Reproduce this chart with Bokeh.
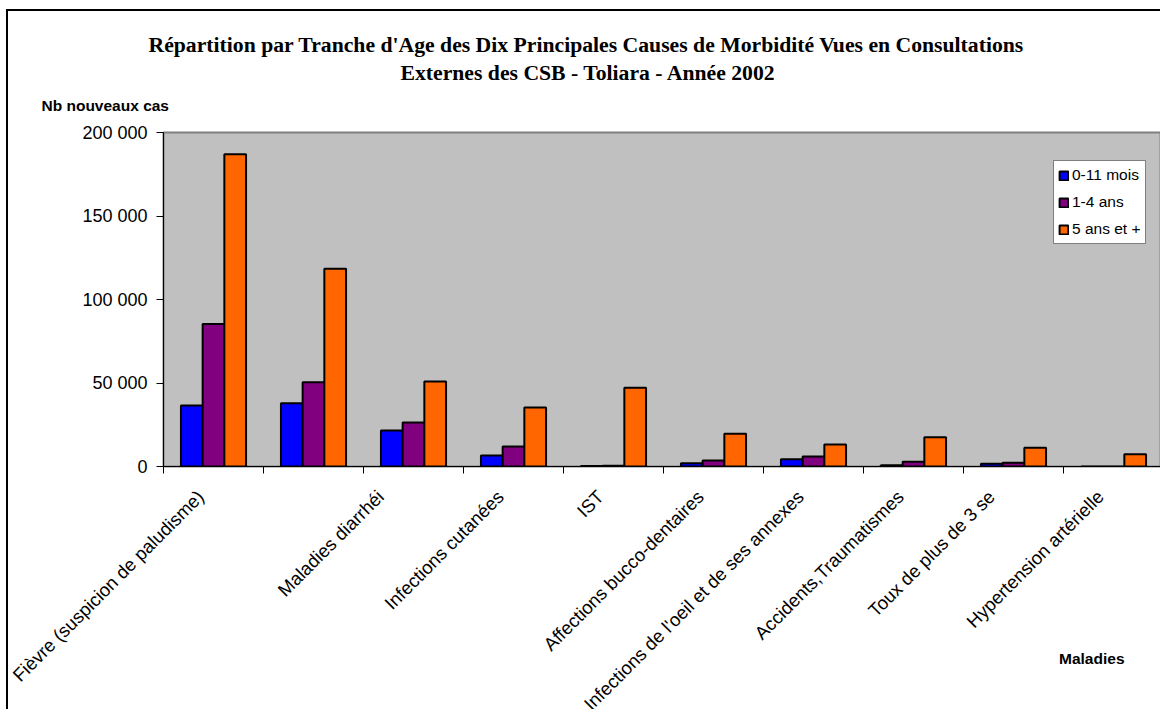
import numpy as np
from math import pi
from bokeh.plotting import figure
from bokeh.models import Range1d, FixedTicker, Legend, LegendItem, Title, GlobalInlineStyleSheet
from bokeh.embed import file_html
from bokeh.resources import INLINE

# ---- data ----
labels = ["Fièvre (suspicion de paludisme)", "Maladies diarrhéi", "",
          "Infections cutanées", "IST", "Affections bucco-dentaires",
          "Infections de l'oeil et de ses annexes", "Accidents,Traumatismes",
          "Toux de plus de 3 se", "Hypertension artérielle"]
series_names = ["0-11 mois", "1-4 ans", "5 ans et +"]
v_0_11 = [36500, 37900, 21500, 6600, 300, 2000, 4400, 800, 1600, 0]
v_1_4 = [85400, 50500, 26300, 12000, 500, 3600, 6000, 2800, 2200, 0]
v_5p = [187000, 118400, 50900, 35300, 47100, 19600, 13200, 17500, 11200, 7400]
y_ticks = [0, 50000, 100000, 150000, 200000]
y_tick_labels = ["0", "50 000", "100 000", "150 000", "200 000"]
title_lines = ["Répartition par Tranche d'Age des Dix Principales Causes de Morbidité Vues en Consultations",
               "Externes des CSB - Toliara - Année 2002"]
y_title = "Nb nouveaux cas"
x_title = "Maladies"

colors = ["#0000FF", "#800080", "#FF6600"]
FONT = "Liberation Sans"

idx = np.arange(len(labels))
# label anchors: slightly left of each category centre; the two clipped labels sit as in the original
label_shift = {1: 0.80, 8: -0.09}
label_pos = [float(i) + 0.5 - 0.13 + label_shift.get(i, 0.0) for i in idx]
boundaries = [float(i) for i in range(len(labels) + 1)]

p = figure(frame_width=997, frame_height=334, x_range=Range1d(0, 9.97), y_range=Range1d(0, 200000),
           output_backend="svg", toolbar_location=None,
           min_border_left=155, min_border_right=0, min_border_top=121, min_border_bottom=243)
p.title.visible = False
p.styles = {"margin-left": "6px", "margin-top": "9px",
            "border-left": "2px solid black", "border-top": "2px solid black"}
p.stylesheets = [GlobalInlineStyleSheet(css="html, body { overflow: hidden !important; }")]
p.background_fill_color = "#C0C0C0"
p.border_fill_color = "white"
p.outline_line_color = "#808080"
p.outline_line_width = 2
p.xgrid.visible = False
p.ygrid.visible = False

bar_w = 0.217
renderers = []
for k, vals in enumerate([v_0_11, v_1_4, v_5p]):
    r = p.vbar(x=idx + 0.5 + (k - 1) * bar_w, top=vals, width=bar_w, bottom=0,
               fill_color=colors[k], line_color="black", line_width=2)
    renderers.append(r)

# x axis: category labels, tick marks (minor) at category boundaries
xa = p.xaxis[0]
xa.ticker = FixedTicker(ticks=label_pos, minor_ticks=boundaries)
xa.major_label_overrides = {c: lab for c, lab in zip(label_pos, labels)}
xa.major_label_orientation = pi / 4
xa.major_label_text_font = FONT
xa.major_label_text_font_size = "18.5px"
xa.major_label_text_color = "black"
xa.major_label_standoff = 20
xa.major_tick_out = 0
xa.major_tick_in = 0
xa.major_tick_line_color = None
xa.minor_tick_out = 7
xa.minor_tick_in = 0
xa.minor_tick_line_color = "black"
xa.axis_line_color = "black"

# y axis
ya = p.yaxis[0]
ya.ticker = FixedTicker(ticks=y_ticks)
ya.major_label_overrides = {t: s for t, s in zip(y_ticks, y_tick_labels)}
ya.major_label_text_font = FONT
ya.major_label_text_font_size = "18px"
ya.major_label_text_color = "black"
ya.major_tick_out = 7
ya.major_tick_in = 0
ya.minor_tick_line_color = None
ya.major_label_standoff = 9
ya.axis_line_color = "black"

# texts above the plot area (first added = nearest to the plot area)
p.add_layout(Title(text=y_title, align="left", offset=-122, standoff=38,
                   text_font=FONT, text_font_size="15.5px", text_font_style="bold",
                   text_color="black"), "above")
p.add_layout(Title(text=title_lines[1], align="left", offset=237, standoff=-19,
                   text_font="Liberation Serif", text_font_size="21.7px", text_font_style="bold",
                   text_color="black"), "above")
p.add_layout(Title(text=title_lines[0], align="left", offset=-15, standoff=24,
                   text_font="Liberation Serif", text_font_size="21.7px", text_font_style="bold",
                   text_color="black"), "above")

# axis title bottom right
p.add_layout(Title(text=x_title, align="right", offset=36, standoff=-150, vertical_align="top",
                   text_font=FONT, text_font_size="15.5px", text_font_style="bold",
                   text_color="black"), "below")

legend = Legend(items=[LegendItem(label=n, renderers=[r]) for n, r in zip(series_names, renderers)],
                location=(890, 222), orientation="vertical",
                label_text_font=FONT, label_text_font_size="15.5px", label_text_color="black",
                glyph_width=11, glyph_height=11, label_standoff=3, label_height=20,
                spacing=7, padding=4, margin=0,
                border_line_color="black", border_line_width=1,
                background_fill_color="white", background_fill_alpha=1)
p.add_layout(legend, "center")

open("out.html", "w").write(file_html(p, INLINE))
